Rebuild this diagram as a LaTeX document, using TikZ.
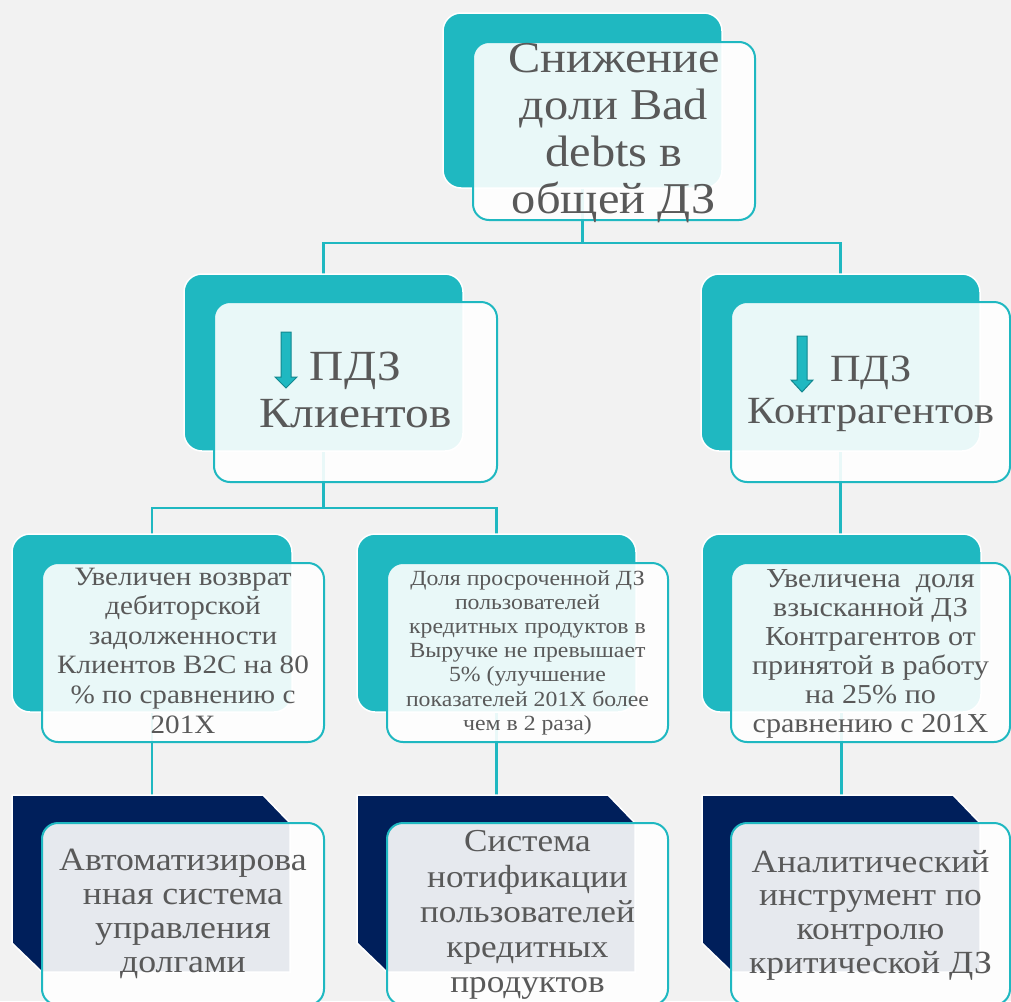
\documentclass[tikz,border=0pt]{standalone}
\usepackage{fontspec}
\setmainfont[FakeStretch=1.1]{Liberation Serif}
\usetikzlibrary{backgrounds,calc}
\definecolor{bgc}{HTML}{F2F2F2}
\definecolor{tealc}{HTML}{1FB8C1}
\definecolor{tealdk}{HTML}{13878F}
\definecolor{navyc}{HTML}{001F5B}
\definecolor{txtc}{HTML}{595959}
\newcommand\fsz[2]{\fontsize{#1}{#2}\selectfont}
\tikzset{
  backbox/.style={rectangle, rounded corners=18pt, fill=tealc, draw=white, line width=1.5pt, inner sep=0pt, outer sep=0pt},
  navyanchor/.style={rectangle, inner sep=0pt, outer sep=0pt},
  navyshape/.style={fill=navyc, draw=white, line width=1.5pt},
  frontbox/.style={rectangle, rounded corners=16pt, fill=white, fill opacity=0.9, draw=tealc, line width=2pt, inner sep=0pt, outer sep=0pt},
  txt/.style={align=center, text=txtc, inner sep=0pt, outer sep=0pt},
  conn/.style={draw=tealc, line width=2.5pt},
  pdzarrow/.style={fill=tealc, draw=tealdk, line width=1pt, line join=miter},
}
\begin{document}
\begin{tikzpicture}[x=1pt,y=-1pt]
\useasboundingbox (0,0) rectangle (1011,1001);
% named coordinates for the bars
\coordinate (bar1) at (0,243);
\coordinate (bar2) at (0,508);

% ---------- level 1 ----------
\node[backbox, minimum width=279pt, minimum height=175pt] (bT) at (582.5,100.5) {};
\node[frontbox, minimum width=282pt, minimum height=178pt] (fT) at (614,131) {};
\node[txt, font=\fsz{44}{47}] (tT) at (614,133.1) {\strut Снижение\\доли Bad\\debts в\\общей ДЗ\strut};

% ---------- level 2 ----------
\node[backbox, minimum width=279pt, minimum height=177pt] (bML) at (323.5,362.5) {};
\node[frontbox, minimum width=283pt, minimum height=180pt] (fML) at (355.5,392) {};
\node[txt, font=\fsz{43}{47}] (tML) at (355.5,394.1) {\strut ПДЗ\\Клиентов\strut};
\draw[pdzarrow] (281,332) -- (291,332) -- (291,377) -- (297,377) -- (286,388) -- (275,377) -- (281,377) -- cycle;

\node[backbox, minimum width=279pt, minimum height=177pt] (bMR) at (840.5,362.5) {};
\node[frontbox, minimum width=279pt, minimum height=180pt] (fMR) at (870.5,392) {};
\node[txt, font=\fsz{38.5}{42}] (tMR) at (871,393.6) {\strut ПДЗ\\Контрагентов\strut};
\draw[pdzarrow] (797,336) -- (807,336) -- (807,380) -- (813,380) -- (802,392) -- (791,380) -- (797,380) -- cycle;

% ---------- level 3 ----------
\node[backbox, minimum width=280pt, minimum height=178pt] (b3L) at (152,623) {};
\node[frontbox, minimum width=282pt, minimum height=179pt] (f3L) at (183,652.5) {};
\node[txt, font=\fsz{26.5}{29.6}] (t3L) at (183,653.1) {\strut Увеличен возврат\\дебиторской\\задолженности\\Клиентов B2C на 80\\\% по сравнению с\\201X\strut};

\node[backbox, minimum width=279pt, minimum height=178pt] (b3M) at (496.5,623) {};
\node[frontbox, minimum width=281pt, minimum height=179pt] (f3M) at (527.5,652.5) {};
\node[txt, font=\fsz{21.6}{24.2}] (t3M) at (527.5,652.8) {\strut Доля просроченной ДЗ\\пользователей\\кредитных продуктов в\\Выручке не превышает\\5\% (улучшение\\показателей 201X более\\чем в 2 раза)\strut};

\node[backbox, minimum width=279pt, minimum height=178pt] (b3R) at (841.5,623) {};
\node[frontbox, minimum width=279pt, minimum height=179pt] (f3R) at (870.5,652.5) {};
\node[txt, font=\fsz{27.4}{29}] (t3R) at (870.5,653.7) {\strut Увеличена~ доля\\взысканной ДЗ\\Контрагентов от\\принятой в работу\\на 25\% по\\сравнению с 201X\strut};

% ---------- level 4 ----------
\foreach \nm/\cx in {b4L/151, b4M/496, b4R/841}{
  \node[navyanchor, minimum width=278pt, minimum height=177pt] (\nm) at (\cx,883.5) {};
  \draw[navyshape] (\nm.north west) -- ($(\nm.north east)+(-27,0)$) -- ($(\nm.north east)+(0,28)$)
    -- (\nm.south east) -- ($(\nm.south west)+(30,0)$) -- ($(\nm.south west)+(0,-29)$) -- cycle;
}
\node[frontbox, minimum width=282pt, minimum height=182pt] (f4L) at (183,914) {};
\node[txt, font=\fsz{32.5}{34.3}] (t4L) at (183,914.6) {\strut Автоматизирова\\нная система\\управления\\долгами\strut};

\node[frontbox, minimum width=281pt, minimum height=182pt] (f4M) at (527.5,914) {};
\node[txt, font=\fsz{32}{35.25}] (t4M) at (527.5,915.4) {\strut Система\\нотификации\\пользователей\\кредитных\\продуктов\strut};

\node[frontbox, minimum width=279pt, minimum height=182pt] (f4R) at (870.5,914) {};
\node[txt, font=\fsz{32.3}{33.7}] (t4R) at (870.5,915.8) {\strut Аналитический\\инструмент по\\контролю\\критической ДЗ\strut};

% ---------- background and connectors ----------
\begin{scope}[on background layer]
  \fill[bgc] (0,0) rectangle (1011,1001);
  \draw[conn] (bT.center) -- (bT.center |- bar1) -| (bML.center);
  \draw[conn] (bT.center |- bar1) -| (bMR.center);
  \draw[conn] (bML.center) -- (bML.center |- bar2) -| (b3L.center);
  \draw[conn] (bML.center |- bar2) -| (b3M.center);
  \draw[conn] (bMR.center) -- (bMR.center |- b3R.center);
  \draw[conn] (b3L.center) -- (b3L.center |- b4L.north);
  \draw[conn] (b3M.center) -- (b3M.center |- b4M.north);
  \draw[conn] (b3R.center) -- (b3R.center |- b4R.north);
\end{scope}
\end{tikzpicture}
\end{document}
